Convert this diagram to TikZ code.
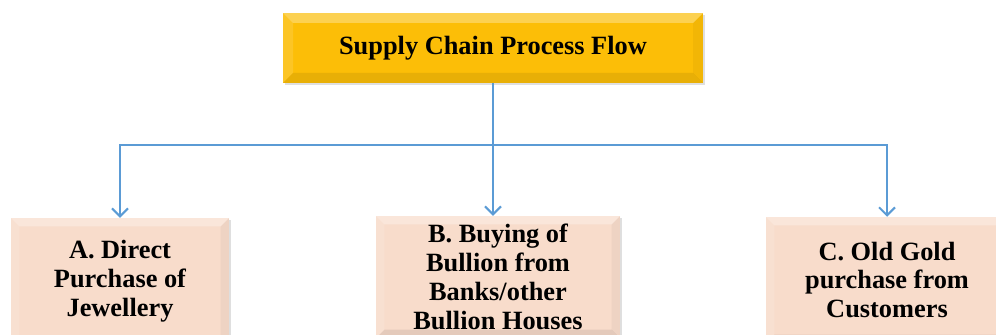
\documentclass[tikz,border=0pt]{standalone}
\usepackage{fontspec}
\setmainfont{Liberation Serif}
\usetikzlibrary{positioning, arrows.meta, shadows}
\definecolor{goldface}{HTML}{FCBE07}
\definecolor{peachface}{HTML}{F8DCCB}
\definecolor{linkblue}{HTML}{5B9BD5}
\tikzstyle{arrow} = [line width=1.5pt,linkblue,-{Straight Barb[length=2.4mm,width=4.8mm,line width=1.8pt]}]
\tikzstyle{link} = [line width=1.5pt,linkblue]
\tikzset{
  bevel/.style={path picture={
      \path (path picture bounding box.north west) coordinate (bnw)
            (path picture bounding box.north east) coordinate (bne)
            (path picture bounding box.south east) coordinate (bse)
            (path picture bounding box.south west) coordinate (bsw);
      \fill[white,opacity=0.30] (bnw) -- (bne) -- ([shift={(-#1,-#1)}]bne) -- ([shift={(#1,-#1)}]bnw) -- cycle;
      \fill[black,opacity=0.08] (bsw) -- (bse) -- ([shift={(-#1,#1)}]bse) -- ([shift={(#1,#1)}]bsw) -- cycle;
      \fill[white,opacity=0.12] (bnw) -- (bsw) -- ([shift={(#1,#1)}]bsw) -- ([shift={(#1,-#1)}]bnw) -- cycle;
      \fill[black,opacity=0.04] (bne) -- (bse) -- ([shift={(-#1,#1)}]bse) -- ([shift={(-#1,-#1)}]bne) -- cycle;
  }},
  titlebox/.style={fill=goldface, bevel=0.3cm, minimum width=12.6cm, minimum height=2.1cm,
    drop shadow={opacity=0.25, shadow xshift=0.5mm, shadow yshift=-0.7mm},
    font=\fontsize{22.5}{24.7}\selectfont\bfseries},
  sourcebox/.style={fill=peachface, bevel=0.25cm, minimum height=3.78cm, align=center,
    drop shadow={opacity=0.25, shadow xshift=0.5mm, shadow yshift=-0.7mm},
    font=\fontsize{22.5}{24.7}\selectfont\bfseries}
}

\begin{document}
\begin{tikzpicture}
    \useasboundingbox (0,0) rectangle (29.88,10.05);
    \clip (0,0) rectangle (29.88,10.05);

    \node[titlebox] (flow) at (14.79,8.61) {Supply Chain Process Flow};
    \coordinate (hub) at ([yshift=-1.86cm]flow.south);

    \node[sourcebox, minimum width=6.54cm] (direct) at (3.6,1.62) {A. Direct\\Purchase of\\Jewellery};
    \node[sourcebox, minimum width=7.32cm, minimum height=3.66cm] (bullion) at (14.94,1.74) {B. Buying of\\Bullion from\\Banks/other\\Bullion Houses};
    \node[sourcebox, minimum width=7.26cm] (oldgold) at (26.61,1.65) {C. Old Gold\\purchase from\\Customers};

    % Edges
    \draw[link] (flow.south) -- (hub);
    \draw[arrow] (hub) -| (direct.north);
    \draw[arrow] (hub) -| (oldgold.north);
    \draw[arrow] (hub) -- (hub |- bullion.north);
\end{tikzpicture}
\end{document}
